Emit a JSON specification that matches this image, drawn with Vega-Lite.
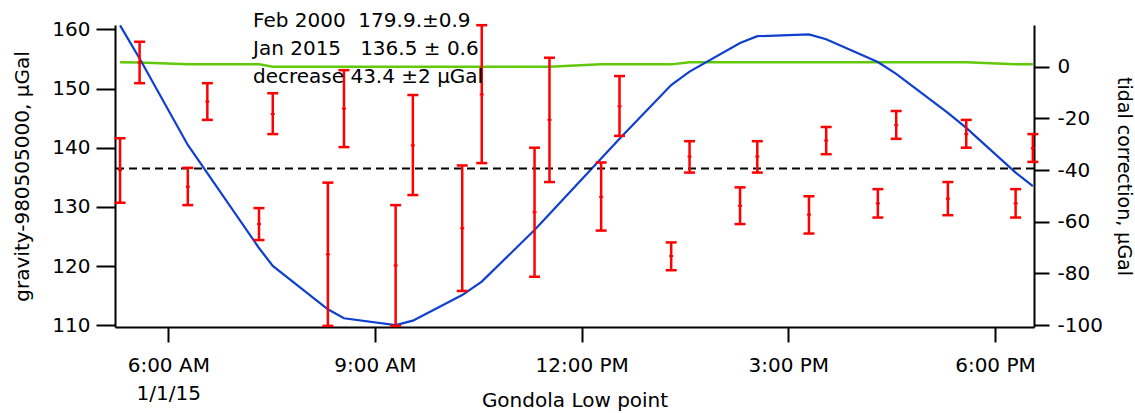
{
  "$schema": "https://vega.github.io/schema/vega-lite/v6.json",
  "width": 919,
  "height": 302,
  "autosize": {"type": "none"},
  "padding": {"left": 115, "top": 25, "right": 101, "bottom": 86},
  "background": "white",
  "config": {
    "view": {"stroke": null},
    "font": "DejaVu Sans",
    "axis": {
      "grid": false,
      "domainColor": "black",
      "domainWidth": 2,
      "tickColor": "black",
      "tickWidth": 2,
      "labelColor": "black",
      "titleColor": "black",
      "labelFontSize": 20,
      "titleFontSize": 20,
      "titleFontWeight": "normal"
    }
  },
  "datasets": {
    "obs": [
      {"time": "2015-01-01T05:18:00", "gravity": 136.2, "lo": 130.7, "hi": 141.6, "tide": 16.0, "other": 1.7},
      {"time": "2015-01-01T05:35:00", "gravity": 154.4, "lo": 150.9, "hi": 157.9, "tide": 3.2, "other": 1.6},
      {"time": "2015-01-01T06:17:00", "gravity": 133.4, "lo": 130.3, "hi": 136.6, "tide": -30.3, "other": 0.9},
      {"time": "2015-01-01T06:34:00", "gravity": 147.8, "lo": 144.7, "hi": 150.9, "tide": -41.2, "other": 0.9},
      {"time": "2015-01-01T07:19:00", "gravity": 127.1, "lo": 124.4, "hi": 129.8, "tide": -70.2, "other": 0.9},
      {"time": "2015-01-01T07:31:00", "gravity": 145.7, "lo": 142.3, "hi": 149.2, "tide": -77.1, "other": 0.0},
      {"time": "2015-01-01T08:19:00", "gravity": 122.0, "lo": 109.9, "hi": 134.1, "tide": -93.9, "other": 0.0},
      {"time": "2015-01-01T08:33:00", "gravity": 146.6, "lo": 140.1, "hi": 153.1, "tide": -97.4, "other": 0.0},
      {"time": "2015-01-01T09:18:00", "gravity": 120.1, "lo": 109.9, "hi": 130.3, "tide": -100.0, "other": 0.0},
      {"time": "2015-01-01T09:33:00", "gravity": 140.4, "lo": 132.0, "hi": 148.9, "tide": -98.3, "other": 0.0},
      {"time": "2015-01-01T10:16:00", "gravity": 126.4, "lo": 115.8, "hi": 137.0, "tide": -88.4, "other": 0.0},
      {"time": "2015-01-01T10:33:00", "gravity": 149.0, "lo": 137.4, "hi": 160.7, "tide": -83.2, "other": 0.0},
      {"time": "2015-01-01T11:19:00", "gravity": 129.1, "lo": 118.2, "hi": 140.0, "tide": -63.2, "other": 0.0},
      {"time": "2015-01-01T11:32:00", "gravity": 144.7, "lo": 134.2, "hi": 155.2, "tide": -57.0, "other": 0.0},
      {"time": "2015-01-01T12:17:00", "gravity": 131.7, "lo": 126.0, "hi": 137.5, "tide": -35.5, "other": 0.9},
      {"time": "2015-01-01T12:33:00", "gravity": 147.0, "lo": 142.0, "hi": 152.1, "tide": -27.9, "other": 0.9},
      {"time": "2015-01-01T13:18:00", "gravity": 121.7, "lo": 119.3, "hi": 124.0, "tide": -7.1, "other": 0.9},
      {"time": "2015-01-01T13:34:00", "gravity": 138.5, "lo": 135.8, "hi": 141.1, "tide": -1.9, "other": 1.7},
      {"time": "2015-01-01T14:18:00", "gravity": 130.2, "lo": 127.1, "hi": 133.3, "tide": 9.2, "other": 1.7},
      {"time": "2015-01-01T14:33:00", "gravity": 138.5, "lo": 135.8, "hi": 141.1, "tide": 11.8, "other": 1.7},
      {"time": "2015-01-01T15:18:00", "gravity": 128.7, "lo": 125.5, "hi": 131.8, "tide": 12.5, "other": 1.7},
      {"time": "2015-01-01T15:33:00", "gravity": 141.2, "lo": 138.9, "hi": 143.5, "tide": 10.6, "other": 1.7},
      {"time": "2015-01-01T16:18:00", "gravity": 130.6, "lo": 128.2, "hi": 133.0, "tide": 1.8, "other": 1.7},
      {"time": "2015-01-01T16:34:00", "gravity": 143.8, "lo": 141.5, "hi": 146.2, "tide": -2.8, "other": 1.7},
      {"time": "2015-01-01T17:19:00", "gravity": 131.4, "lo": 128.6, "hi": 134.2, "tide": -17.9, "other": 1.7},
      {"time": "2015-01-01T17:35:00", "gravity": 142.3, "lo": 140.0, "hi": 144.7, "tide": -23.7, "other": 1.7},
      {"time": "2015-01-01T18:18:00", "gravity": 130.6, "lo": 128.2, "hi": 133.0, "tide": -41.0, "other": 0.9},
      {"time": "2015-01-01T18:33:00", "gravity": 139.9, "lo": 137.6, "hi": 142.3, "tide": -46.2, "other": 0.9}
    ],
    "mean": [{"gravity": 136.5}],
    "notes": [
      {"time": "2015-01-01T07:13:46", "gravity": 160.34, "label": "Feb 2000\u00a0\u00a0179.9.±0.9"},
      {"time": "2015-01-01T07:13:46", "gravity": 155.66, "label": "Jan 2015\u00a0\u00a0\u00a0136.5 ± 0.6"},
      {"time": "2015-01-01T07:13:46", "gravity": 150.98, "label": "decrease 43.4 ±2 μGal"}
    ]
  },
  "layer": [
    {
      "data": {"name": "obs"},
      "layer": [
        {
          "mark": {"type": "line", "color": "#62c90a", "strokeWidth": 2.5},
          "encoding": {
            "x": {
              "field": "time", "type": "temporal",
              "scale": {"domain": ["2015-01-01T05:13:35", "2015-01-01T18:34:00"]},
              "axis": {
                "title": "Gondola Low point",
                "tickCount": 5,
                "tickSize": 15,
                "labelPadding": 13,
                "labelLineHeight": 28,
                "labelBaseline": "top",
                "labelExpr": "hours(datum.value) == 6 ? ['6:00 AM', '1/1/15'] : timeFormat(datum.value, '%-I:%M %p')",
                "titleY": 79,
                "titleBaseline": "alphabetic"
              }
            },
            "y": {
              "field": "other", "type": "quantitative",
              "scale": {"domain": [-100.77, 16.14], "nice": false, "zero": false},
              "axis": {
                "orient": "right",
                "title": "tidal correction, μGal",
                "values": [-100, -80, -60, -40, -20, 0],
                "tickSize": 15,
                "labelPadding": 8,
                "labelExpr": "datum.value == 0 ? ' 0' : '-' + abs(datum.value)",
                "titleFontSize": 19,
                "titleAngle": 90,
                "titleX": 83,
                "titleY": 151,
                "titleAlign": "center",
                "titleBaseline": "alphabetic"
              }
            }
          }
        },
        {
          "mark": {"type": "line", "color": "#0f3fcf", "strokeWidth": 2.2},
          "encoding": {
            "x": {"field": "time", "type": "temporal"},
            "y": {"field": "tide", "type": "quantitative"}
          }
        }
      ]
    },
    {
      "layer": [
        {
          "data": {"name": "mean"},
          "mark": {"type": "rule", "color": "black", "strokeWidth": 2, "strokeDash": [8, 5]},
          "encoding": {
            "y": {
              "field": "gravity", "type": "quantitative",
              "scale": {"domain": [109.71, 160.73], "nice": false, "zero": false},
              "axis": {
                "orient": "left",
                "title": "gravity-980505000, μGal",
                "values": [110, 120, 130, 140, 150, 160],
                "tickSize": 19,
                "labelPadding": 6,
                "titleAngle": -90,
                "titleX": -87,
                "titleY": 151,
                "titleAlign": "center",
                "titleBaseline": "alphabetic"
              }
            }
          }
        },
        {
          "data": {"name": "obs"},
          "mark": {"type": "rule", "color": "#ff0000", "strokeWidth": 2.5},
          "encoding": {
            "x": {"field": "time", "type": "temporal"},
            "y": {"field": "lo", "type": "quantitative"},
            "y2": {"field": "hi"}
          }
        },
        {
          "data": {"name": "obs"},
          "mark": {"type": "tick", "orient": "horizontal", "color": "#ff0000", "size": 11, "thickness": 2.5, "opacity": 1},
          "encoding": {
            "x": {"field": "time", "type": "temporal"},
            "y": {"field": "lo", "type": "quantitative"}
          }
        },
        {
          "data": {"name": "obs"},
          "mark": {"type": "tick", "orient": "horizontal", "color": "#ff0000", "size": 11, "thickness": 2.5, "opacity": 1},
          "encoding": {
            "x": {"field": "time", "type": "temporal"},
            "y": {"field": "hi", "type": "quantitative"}
          }
        },
        {
          "data": {"name": "obs"},
          "mark": {"type": "tick", "orient": "horizontal", "color": "#ff0000", "size": 4, "thickness": 2, "opacity": 1},
          "encoding": {
            "x": {"field": "time", "type": "temporal"},
            "y": {"field": "gravity", "type": "quantitative"}
          }
        },
        {
          "data": {"name": "notes"},
          "mark": {"type": "text", "align": "left", "baseline": "alphabetic", "fontSize": 20, "color": "black"},
          "encoding": {
            "x": {"field": "time", "type": "temporal"},
            "y": {"field": "gravity", "type": "quantitative"},
            "text": {"field": "label"}
          }
        }
      ]
    }
  ],
  "resolve": {"scale": {"y": "independent"}, "axis": {"y": "independent"}}
}
